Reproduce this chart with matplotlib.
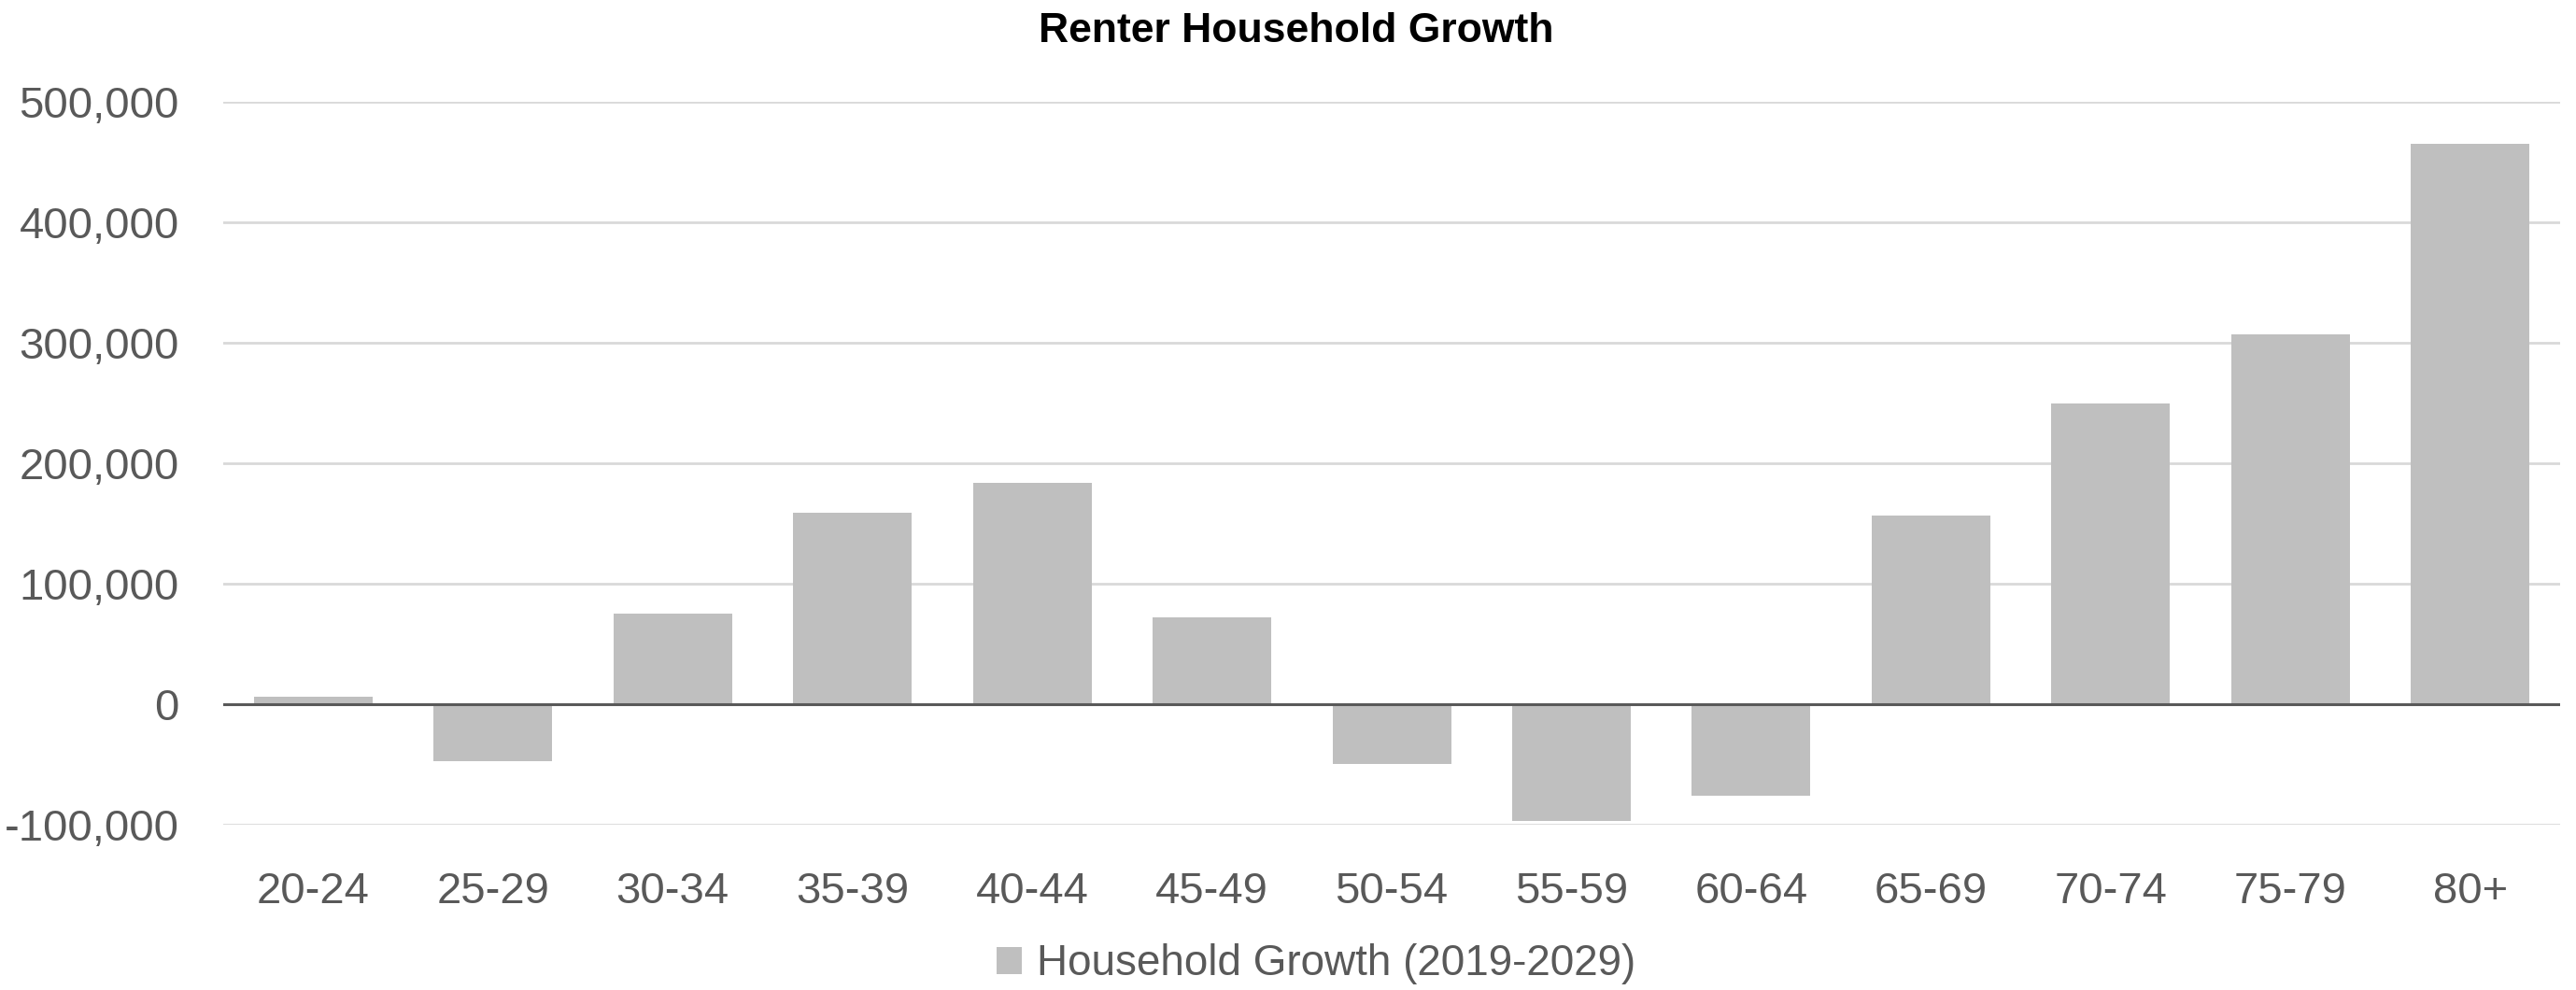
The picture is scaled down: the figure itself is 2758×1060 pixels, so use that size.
import matplotlib
matplotlib.use("Agg")
import matplotlib.pyplot as plt
import matplotlib.ticker as mticker
from matplotlib.patches import Patch

# age bands and projected change in renter households, 2019-2029
age_groups = ["20-24", "25-29", "30-34", "35-39", "40-44", "45-49", "50-54",
              "55-59", "60-64", "65-69", "70-74", "75-79", "80+"]
growth = [6000, -47000, 75000, 159000, 184000, 72000, -50000,
          -97000, -76000, 157000, 250000, 307000, 465000]
y_ticks = [-100000, 0, 100000, 200000, 300000, 400000, 500000]

plt.rcParams["font.family"] = ["Liberation Sans Narrow", "Liberation Sans", "DejaVu Sans"]

bar_color = "#BFBFBF"
text_color = "#595959"

fig = plt.figure(figsize=(27.58, 10.60), dpi=100)
ax = fig.add_axes([0.0867, 0.167, 0.9071, 0.730])

ax.bar(range(len(age_groups)), growth, width=0.66, color=bar_color, zorder=2)
ax.axhline(0, color=text_color, linewidth=2.2, zorder=3)

ax.set_xlim(-0.5, len(age_groups) - 0.5)
ax.set_ylim(-100000, 500000)
ax.set_yticks(y_ticks)
ax.yaxis.set_major_formatter(mticker.FuncFormatter(lambda v, p: format(int(v), ",")))
ax.set_xticks(range(len(age_groups)))
ax.set_xticklabels(age_groups)

ax.grid(axis="y", color="#D9D9D9", linewidth=2, zorder=0)
ax.set_axisbelow(True)
for s in ax.spines.values():
    s.set_visible(False)

ax.tick_params(axis="y", length=0, pad=34, labelsize=34, labelcolor=text_color)
ax.tick_params(axis="x", length=0, pad=36, labelsize=34, labelcolor=text_color)

fig.text(0.503, 0.968, "Renter Household Growth", ha="center", va="center",
         fontsize=32, fontweight="bold", color="black")

handle = Patch(facecolor=bar_color, edgecolor="none")
fig.legend([handle], ["Household Growth (2019-2029)"], loc="center",
           bbox_to_anchor=(0.511, 0.026), frameon=False, fontsize=33,
           handlelength=0.6, handleheight=0.6, handletextpad=0.35,
           labelcolor=text_color)

fig.savefig("out.png", dpi=100, facecolor="white")
